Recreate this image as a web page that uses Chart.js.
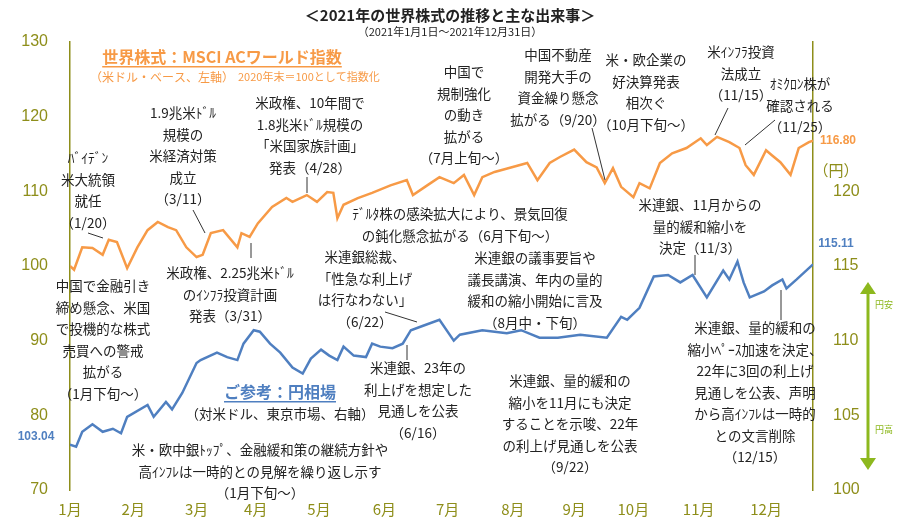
<!DOCTYPE html>
<html><head><meta charset="utf-8">
<script src="https://cdn.jsdelivr.net/npm/chart.js"></script>
<style>body{margin:0;background:#fff}#w{width:900px;height:530px;position:relative}</style>
</head><body><div id="w"><canvas id="c" width="900" height="530"></canvas></div>
<script>
const monthLabels=['1月','2月','3月','4月','5月','6月','7月','8月','9月','10月','11月','12月'];
const monthDays=[0,31,62,91,122,154,185,217,247,276,308,341];
const msciDays=[0,2,6,11,16,19,23,28,33,38,43,48,52,57,62,65,69,75,82,84,88,92,99,106,109,116,121,126,129,131,134,141,148,157,165,168,175,181,188,193,198,202,208,216,224,229,235,240,247,253,258,262,266,270,276,279,284,289,295,302,309,312,317,323,328,331,335,341,344,348,353,357,362,364];
const msciVals=[100,99.5,102.5,102.4,101.5,103.5,103.2,99.7,102.5,104.8,105.9,105.2,104.8,102.5,101.2,101.5,104.4,104.8,102.5,104.4,103.9,105.7,107.9,109.1,108.6,109.5,108.6,109.9,109.8,106.4,108.2,109.1,109.8,110.8,111.5,109.5,110.8,111.9,111.1,112.2,109.5,111.9,112.6,113.2,113.8,111.5,113.8,114.6,115.6,113.9,113.2,111.1,113.1,110.6,109.2,111.1,110.4,113.8,115.1,115.8,117.1,116.2,117.3,116.6,115.8,113.5,112.2,115.5,114.8,113.9,112.2,115.8,116.6,116.8];
const yenDays=[0,3,6,11,16,21,25,28,38,41,47,50,55,62,64,72,77,82,85,90,93,98,103,109,114,118,123,127,131,134,139,145,148,152,158,163,167,173,181,188,191,202,214,221,230,239,250,263,270,273,279,286,293,299,305,312,320,323,327,330,333,340,344,349,351,356,364];
const yenVals=[103.04,102.9,103.9,104.4,103.9,104.1,103.8,104.9,105.7,104.9,105.9,105.4,106.5,108.5,108.7,109.2,108.9,108.7,109.8,110.7,110.6,109.8,109.2,108.2,107.8,108.8,109.4,109.0,108.7,109.6,109.0,108.9,109.8,109.6,109.5,109.8,110.7,111.0,111.4,110.0,110.4,110.7,110.5,110.7,110.2,110.2,110.4,110.2,111.6,111.4,112.2,114.3,114.4,113.9,114.4,112.9,114.7,114.1,115.3,113.9,112.9,113.3,113.7,114.1,113.5,114.1,115.11];
const leftTicks=[70,80,90,100,110,120,130];
const rightTicks=[100,105,110,115,120];

const OR='#F79A46',BL='#4F7FC0',OL='#8E8E1A',GR='#8DB81E',TX='#222';
const F='"Noto Sans CJK JP","Noto Sans",sans-serif';
const notes=[
 [88,158,['ﾊﾞｲﾃﾞﾝ','米大統領','就任','（1/20）']],
 [183,113,['1.9兆米ﾄﾞﾙ','規模の','米経済対策','成立','（3/11）']],
 [310,103,['米政権、10年間で','1.8兆米ﾄﾞﾙ規模の','「米国家族計画」','発表（4/28）']],
 [464,72,['中国で','規制強化','の動き','拡がる','（7月上旬～）']],
 [558,55,['中国不動産','開発大手の','資金繰り懸念','拡がる（9/20）']],
 [646,60,['米・欧企業の','好決算発表','相次ぐ','（10月下旬～）']],
 [741,52,['米ｲﾝﾌﾗ投資','法成立','（11/15）']],
 [800,84,['ｵﾐｸﾛﾝ株が','確認される','（11/25）']],
 [460,214,['ﾃﾞﾙﾀ株の感染拡大により、景気回復','の鈍化懸念拡がる（6月下旬～）']],
 [700,205,['米連銀、11月からの','量的緩和縮小を','決定（11/3）']],
 [103,286,['中国で金融引き','締め懸念、米国','で投機的な株式','売買への警戒','拡がる','（1月下旬～）']],
 [230,273,['米政権、2.25兆米ﾄﾞﾙ','のｲﾝﾌﾗ投資計画','発表（3/31）']],
 [365,257,['米連銀総裁、','「性急な利上げ','は行なわない」','（6/22）']],
 [535,258,['米連銀の議事要旨や','議長講演、年内の量的','緩和の縮小開始に言及','（8月中・下旬）']],
 [418,368,['米連銀、23年の','利上げを想定した','見通しを公表','（6/16）']],
 [280,414,['（対米ドル、東京市場、右軸）']],
 [260,450,['米・欧中銀ﾄｯﾌﾟ、金融緩和策の継続方針や','高ｲﾝﾌﾚは一時的との見解を繰り返し示す','（1月下旬～）']],
 [570,381,['米連銀、量的緩和の','縮小を11月にも決定','することを示唆、22年','の利上げ見通しを公表','（9/22）']],
 [755,328,['米連銀、量的緩和の','縮小ﾍﾟｰｽ加速を決定、','22年に3回の利上げ','見通しを公表、声明','から高ｲﾝﾌﾚは一時的','との文言削除','（12/15）']]
];
const leaders=[[88,233,103,238],[193,210,205,233],[307,177,307,193],[592,128,605,180],[728,108,715,135],[775,120,745,145],[695,255,695,275],[251,243,251,258],[385,312,417,322],[407,345,407,360],[781,290,781,320]];

const deco={id:'deco',afterDraw(ch){
 const c=ch.ctx;c.save();
 c.fillStyle=TX;c.textAlign='center';c.textBaseline='middle';
 c.font='bold 15px '+F;c.fillText('＜2021年の世界株式の推移と主な出来事＞',450,15);
 c.font='11px '+F;c.fillText('（2021年1月1日～2021年12月31日）',450,32);
 c.font='13.5px '+F;
 notes.forEach(n=>n[2].forEach((t,i)=>c.fillText(t,n[0],n[1]+i*21.5)));
 c.strokeStyle='#333';c.lineWidth=1;
 leaders.forEach(l=>{c.beginPath();c.moveTo(l[0],l[1]);c.lineTo(l[2],l[3]);c.stroke();});
 c.fillStyle=OR;c.font='bold 16px '+F;c.fillText('世界株式：MSCI ACワールド指数',222,57);
 let w=c.measureText('世界株式：MSCI ACワールド指数').width;
 c.fillRect(222-w/2,66,w,1.5);
 c.font='12px '+F;c.textAlign='left';c.fillText('（米ドル・ベース、左軸）',90,77);
 c.font='11px '+F;c.fillText('2020年末＝100として指数化',238,77);
 c.textAlign='center';c.fillStyle=BL;c.font='bold 16px '+F;c.fillText('ご参考：円相場',280,392);
 w=c.measureText('ご参考：円相場').width;c.fillRect(280-w/2,401,w,1.5);
 c.font='bold 12px "Liberation Sans",sans-serif';
 c.fillStyle=OR;c.fillText('116.80',838,141);
 c.fillStyle=BL;c.fillText('115.11',836,244);c.fillText('103.04',36,437);
 c.fillStyle=OL;c.font='15px '+F;c.fillText('（円）',836,170);
 c.strokeStyle=GR;c.fillStyle=GR;c.lineWidth=3;
 c.beginPath();c.moveTo(868,292);c.lineTo(868,460);c.stroke();
 c.beginPath();c.moveTo(860,294);c.lineTo(876,294);c.lineTo(868,282);c.fill();
 c.beginPath();c.moveTo(860,458);c.lineTo(876,458);c.lineTo(868,470);c.fill();
 c.font='9px '+F;c.fillText('円安',884,305);c.fillText('円高',884,430);
 c.restore();}};

new Chart(document.getElementById('c'),{
 type:'line',
 data:{datasets:[
  {data:msciDays.map((d,i)=>({x:d,y:msciVals[i]})),borderColor:OR,borderWidth:2.5,pointRadius:0,yAxisID:'y',tension:0},
  {data:yenDays.map((d,i)=>({x:d,y:yenVals[i]})),borderColor:BL,borderWidth:2.5,pointRadius:0,yAxisID:'y2',tension:0}
 ]},
 options:{responsive:false,animation:false,layout:{padding:{top:42,bottom:6,left:0,right:0}},
  plugins:{legend:{display:false},tooltip:{enabled:false}},
  scales:{
   x:{type:'linear',min:0,max:364,grid:{display:false},border:{display:false},
      afterBuildTicks(a){a.ticks=monthDays.map(v=>({value:v}));},
      afterFit(a){a.height=34;},
      ticks:{autoSkip:false,maxRotation:0,color:OL,font:{size:15,family:F},padding:2,
      callback:v=>{const i=monthDays.indexOf(v);return i>=0?monthLabels[i]:'';}}},
   y:{position:'left',min:70,max:130,grid:{display:false},border:{color:OL,width:1.5},
      afterBuildTicks(a){a.ticks=leftTicks.map(v=>({value:v}));},
      afterFit(a){a.width=70;},
      ticks:{color:OL,font:{size:16,family:'"Liberation Sans",sans-serif'},padding:14}},
   y2:{position:'right',min:100,max:130,grid:{display:false},border:{color:OL,width:1.5},
      afterBuildTicks(a){a.ticks=rightTicks.map(v=>({value:v}));},
      afterFit(a){a.width=87;},
      ticks:{color:OL,font:{size:16,family:'"Liberation Sans",sans-serif'},padding:12}}
  }},
 plugins:[deco]
});
</script></body></html>
